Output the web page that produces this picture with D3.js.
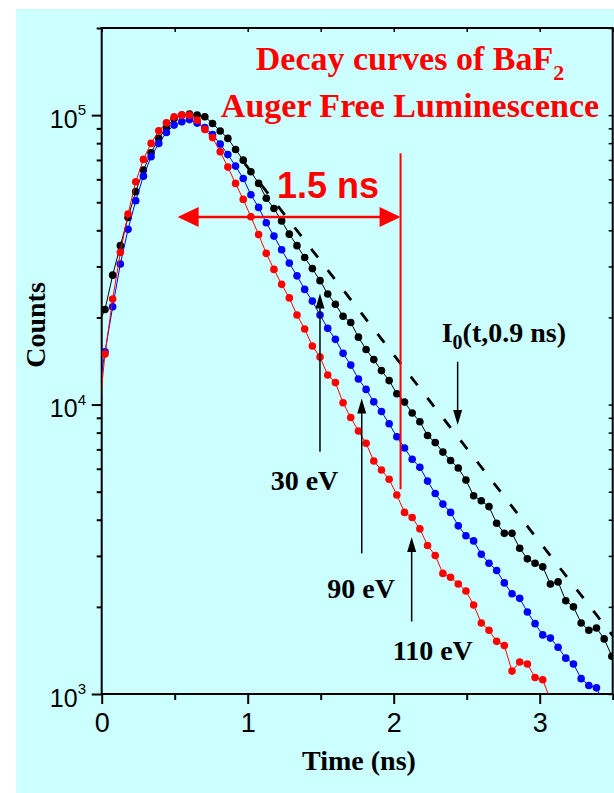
<!DOCTYPE html>
<html>
<head>
<meta charset="utf-8">
<script src="https://cdn.jsdelivr.net/npm/d3@7/dist/d3.min.js"></script>
<style>
  html, body { margin: 0; padding: 0; background: #fff; }
  svg { display: block; }
</style>
</head>
<body>
<div id="chart"></div>
<script>
// time channels: first channel sits just left of t = 0, width ~52.6 ps
const t0 = -0.030;
const dt = 0.0526;

// counts, one value per channel
const black = [18600, 21300, 28000, 35400, 44300, 54400, 64600, 74100, 83100, 90700,
  97400, 100000, 100800, 100000, 98700, 93600, 88100, 83100, 76100, 69900,
  63700, 58100, 51600, 47600, 43100, 38800, 35400, 32200, 29500, 26800,
  24100, 22200, 20200, 19200, 17100, 15500, 14300, 13100, 12100, 10900,
  10200, 9350, 8720, 7820, 7390, 6850, 6410, 6040, 5490, 4840,
  4650, 4440, 3890, 3590, 3590, 3190, 2930, 2830, 2750, 2400,
  2440, 2100, 2000, 1760, 1660, 1690, 1550, 1350];
const blue = [10450, 15220, 21770, 30580, 40300, 50580, 61550, 71780, 79860, 87130,
  92370, 94820, 96500, 93840, 90540, 85630, 79410, 73050, 66660, 60430,
  53050, 48000, 42460, 38200, 34250, 30820, 27840, 25000, 22780, 20380,
  18340, 16800, 15030, 13690, 12250, 11280, 10220, 9460, 8580, 7740,
  7080, 6470, 6070, 5440, 4930, 4530, 4240, 3810, 3520, 3380,
  3040, 2830, 2670, 2420, 2220, 2140, 1920, 1750, 1600, 1560,
  1450, 1330, 1270, 1130, 1070, 1050, 920, 850];
const red = [8170, 14940, 23140, 33560, 45500, 58830, 70310, 79860, 88260, 94060,
  98650, 100000, 100000, 96100, 89250, 83620, 74680, 66140, 58100, 51150,
  44530, 38660, 33300, 29310, 26020, 23360, 20380, 18240, 15930, 14590,
  12650, 11910, 10140, 9020, 8100, 7350, 6380, 5940, 5520, 4870,
  4240, 4070, 3720, 3260, 3010, 2610, 2530, 2400, 2270, 2030,
  1760, 1660, 1520, 1470, 1200, 1290, 1270, 1140, 1120, 955, 900];

// I0(t, 0.9 ns) reference decay (straight on the log axis)
const refT = [0.98, 3.5];
const refC = [68000, 1590];

// annotations, in data units
const spanT = [0.52, 2.047];  // "1.5 ns" double arrow
const spanC = 44500;
const markerC = [73900, 5100]; // red vertical at spanT[1]
const energyArrows = [
  { label: '30 eV', t: 1.495, from: 6870, to: 24200 },
  { label: '90 eV', t: 1.781, from: 3060, to: 10500 },
  { label: '110 eV', t: 2.123, from: 1780, to: 3490 }
];
const refArrow = { t: 2.438, from: 14060, to: 8500 };

const xTicks = [0, 1, 2, 3];
const xMinor = [0.5, 1.5, 2.5, 3.5];
const yMajor = [1e3, 1e4, 1e5];

const W = 614, H = 793;
const serif = '"Liberation Serif", "Times New Roman", serif';
const sans = '"Liberation Sans", Arial, sans-serif';

const svg = d3.select('#chart').append('svg')
  .attr('width', W).attr('height', H);

svg.append('rect')
  .attr('x', 16).attr('y', 9)
  .attr('width', W - 16).attr('height', H - 9)
  .attr('fill', '#ccffff');

const x = d3.scaleLinear().domain([0, 3.5]).range([101.7, 612.7]);
const y = d3.scaleLog().domain([1e3, 2e5]).range([694, 28]);

const [x0, x1] = x.range();
const [yb, yt] = y.range();

svg.append('clipPath').attr('id', 'plot')
  .append('rect')
  .attr('x', x0).attr('y', yt)
  .attr('width', x1 - x0).attr('height', yb - yt);

// minor ticks on the log axis: 2..9 x each decade
const yMinor = [];
yMajor.forEach(d => {
  for (let k = 2; k <= 9; k++) if (d * k <= 2e5) yMinor.push(d * k);
});

// left axis
svg.append('g')
  .attr('transform', `translate(${x0},0)`)
  .call(d3.axisLeft(y).tickValues(yMinor).tickSize(5).tickFormat(''))
  .call(g => g.select('.domain').remove())
  .selectAll('line').attr('stroke', '#000').attr('stroke-width', 2);
svg.append('g')
  .attr('transform', `translate(${x0},0)`)
  .call(d3.axisLeft(y).tickValues(yMajor).tickSize(10).tickFormat(''))
  .call(g => g.select('.domain').remove())
  .selectAll('line').attr('stroke', '#000').attr('stroke-width', 2);

// right axis (inward ticks)
svg.append('g')
  .attr('transform', `translate(${x1},0)`)
  .call(d3.axisLeft(y).tickValues(yMajor.concat(yMinor)).tickSize(-4).tickFormat(''))
  .call(g => g.select('.domain').remove())
  .selectAll('line').attr('stroke', '#000').attr('stroke-width', 1.5)
  .attr('x2', -4);

// bottom axis
svg.append('g')
  .attr('transform', `translate(0,${yb})`)
  .call(d3.axisBottom(x).tickValues(xMinor).tickSize(6).tickFormat(''))
  .call(g => g.select('.domain').remove())
  .selectAll('line').attr('stroke', '#000').attr('stroke-width', 2);
const xAxis = svg.append('g')
  .attr('transform', `translate(0,${yb})`)
  .call(d3.axisBottom(x).tickValues(xTicks).tickSize(10).tickPadding(8).tickFormat(d3.format('d')));
xAxis.select('.domain').remove();
xAxis.selectAll('line').attr('stroke', '#000').attr('stroke-width', 2);
xAxis.selectAll('text')
  .attr('font-family', sans).attr('font-size', 27).attr('fill', '#000')
  .attr('dy', null).attr('y', 37.5);

// top axis (inward ticks)
svg.append('g')
  .attr('transform', `translate(0,${yt})`)
  .call(d3.axisTop(x).tickValues(xTicks.concat(xMinor)).tickSize(-4).tickFormat(''))
  .call(g => g.select('.domain').remove())
  .selectAll('line').attr('stroke', '#000').attr('stroke-width', 1.5);

// frame
svg.append('rect')
  .attr('x', x0).attr('y', yt)
  .attr('width', x1 - x0).attr('height', yb - yt)
  .attr('fill', 'none').attr('stroke', '#000').attr('stroke-width', 2);

// y tick labels 10^n
const yLab = svg.append('g');
yMajor.forEach(v => {
  const t = yLab.append('text')
    .attr('x', 86).attr('y', y(v) + 12.5)
    .attr('text-anchor', 'end')
    .attr('font-family', sans).attr('fill', '#000');
  t.append('tspan').attr('font-size', 25).text('10');
  t.append('tspan').attr('font-size', 15).attr('dy', -12.5).text(Math.round(Math.log10(v)));
});

// data
const plot = svg.append('g').attr('clip-path', 'url(#plot)');

// reference decay
plot.append('path')
  .datum(refT.map((t, i) => [t, refC[i]]))
  .attr('d', d3.line().x(d => x(d[0])).y(d => y(d[1])))
  .attr('fill', 'none').attr('stroke', '#000')
  .attr('stroke-width', 2.8).attr('stroke-dasharray', '11,16');

const series = [
  { values: black, color: '#000000' },
  { values: blue, color: '#0000ff' },
  { values: red, color: '#ff0000' }
];
const line = d3.line().x(d => x(d[0])).y(d => y(d[1]));

series.forEach(s => {
  const pts = s.values.map((c, i) => [t0 + i * dt, c]);
  plot.append('path').datum(pts)
    .attr('d', line)
    .attr('fill', 'none').attr('stroke', s.color).attr('stroke-width', 1);
  plot.append('g').selectAll('circle').data(pts).join('circle')
    .attr('cx', d => x(d[0])).attr('cy', d => y(d[1]))
    .attr('r', 3.8).attr('fill', s.color);
});

// red "1.5 ns" annotation
const red0 = '#ff0000';
const ay = y(spanC);
const ax0 = x(spanT[0]), ax1 = x(spanT[1]);
const hl = 21, hw = 10;
svg.append('line')
  .attr('x1', ax0 + hl - 2).attr('x2', ax1 - hl + 2)
  .attr('y1', ay).attr('y2', ay)
  .attr('stroke', red0).attr('stroke-width', 2.5);
svg.append('path')
  .attr('d', `M${ax0},${ay}L${ax0 + hl},${ay - hw}L${ax0 + hl},${ay + hw}Z`)
  .attr('fill', red0);
svg.append('path')
  .attr('d', `M${ax1},${ay}L${ax1 - hl},${ay - hw}L${ax1 - hl},${ay + hw}Z`)
  .attr('fill', red0);
svg.append('line')
  .attr('x1', ax1).attr('x2', ax1)
  .attr('y1', y(markerC[0])).attr('y2', y(markerC[1]))
  .attr('stroke', red0).attr('stroke-width', 2);
svg.append('text')
  .attr('x', 277).attr('y', 198)
  .attr('font-family', sans).attr('font-weight', 'bold').attr('font-size', 36)
  .attr('fill', red0).text('1.5 ns');

// title
const title = svg.append('g')
  .attr('font-family', serif).attr('font-weight', 'bold')
  .attr('fill', red0).attr('text-anchor', 'middle');
const t1 = title.append('text').attr('x', 410).attr('y', 70).attr('font-size', 34);
t1.append('tspan').text('Decay curves of BaF');
t1.append('tspan').attr('font-size', 22).attr('dy', 10).text('2');
title.append('text').attr('x', 410).attr('y', 117).attr('font-size', 34)
  .text('Auger Free Luminescence');

// black arrows
function arrow(t, c0, c1) {
  const xa = x(t), ya = y(c0), yb2 = y(c1);
  const dir = yb2 < ya ? 1 : -1; // 1 = pointing up
  const len = 15, w = 4.5;
  svg.append('line')
    .attr('x1', xa).attr('x2', xa)
    .attr('y1', ya).attr('y2', yb2 + dir * (len - 2))
    .attr('stroke', '#000').attr('stroke-width', 1.5);
  svg.append('path')
    .attr('d', `M${xa},${yb2}L${xa - w},${yb2 + dir * len}L${xa + w},${yb2 + dir * len}Z`)
    .attr('fill', '#000');
}
energyArrows.forEach(a => arrow(a.t, a.from, a.to));
arrow(refArrow.t, refArrow.from, refArrow.to);

const lab = svg.append('g')
  .attr('font-family', serif).attr('font-weight', 'bold')
  .attr('font-size', 28).attr('fill', '#000');
const labelPos = [[270.7, 490], [327.3, 598.3], [392.7, 660]];
energyArrows.forEach((a, i) => {
  lab.append('text').attr('x', labelPos[i][0]).attr('y', labelPos[i][1]).text(a.label);
});
const i0 = lab.append('text').attr('x', 441.7).attr('y', 341.7);
i0.append('tspan').text('I');
i0.append('tspan').attr('font-size', 20).attr('dy', 7).text('0');
i0.append('tspan').attr('dy', -7).text('(t,0.9 ns)');

// axis titles
lab.append('text')
  .attr('text-anchor', 'middle')
  .attr('transform', 'translate(45,325) rotate(-90)')
  .text('Counts');
lab.append('text')
  .attr('text-anchor', 'middle')
  .attr('x', 359).attr('y', 770)
  .text('Time (ns)');
</script>
</body>
</html>
